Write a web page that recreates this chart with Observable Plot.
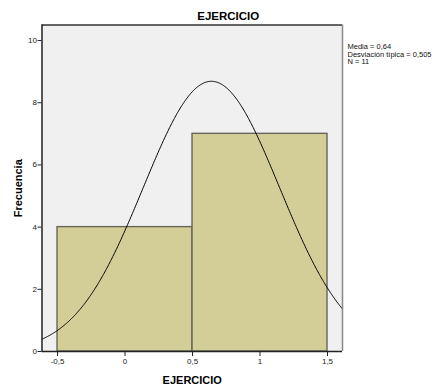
<!DOCTYPE html>
<html><head><meta charset="utf-8">
<script src="https://cdn.jsdelivr.net/npm/d3@7"></script>
<script src="https://cdn.jsdelivr.net/npm/@observablehq/plot@0.6"></script>
<style>
body{margin:0;background:#fff;}
#chart{width:434px;height:387px;}
</style>
</head><body><div id="chart"></div>
<script>
// Data
const binStart = [-0.5, 0.5];
const binEnd = [0.5, 1.5];
const counts = [4, 7];
const xTicks = [-0.5, 0, 0.5, 1, 1.5];
const xTickLabels = ["-0,5", "0", "0,5", "1", "1,5"];
const yTicks = [0, 2, 4, 6, 8, 10];
const statsLines = ["Media = 0,64", "Desviación típica = 0,505", "N = 11"];
const mean = 0.64, sd = 0.505, n = 11, binWidth = 1;
const titleText = "EJERCICIO";
const xLabel = "EJERCICIO";
const yLabel = "Frecuencia";

const xDomain = [-0.615, 1.611];
const bins = binStart.map((s, i) => ({x1: s, x2: binEnd[i], count: counts[i]}));
const curve = d3.range(xDomain[0], xDomain[1] + 1e-9, 0.005).map(x => ({
  x, y: n * binWidth / (sd * Math.sqrt(2 * Math.PI)) * Math.exp(-0.5 * ((x - mean) / sd) ** 2)
}));

const font = "'Liberation Sans', Arial, sans-serif";
const chart = Plot.plot({
  width: 434, height: 387,
  marginLeft: 41.5, marginRight: 92, marginTop: 24.5, marginBottom: 36,
  style: {fontFamily: font, fontSize: "8px", background: "white", overflow: "visible", color: "#222"},
  x: {domain: xDomain},
  y: {domain: [0, 10.5]},
  marks: [
    Plot.frame({fill: "#f0f0f0", stroke: null}),
    Plot.rectY(bins, {x1: "x1", x2: "x2", y: "count", fill: "#d3ce98", stroke: "#66665a", strokeWidth: 1.4}),
    Plot.line(curve, {x: "x", y: "y", stroke: "black", strokeWidth: 1}),
    Plot.ruleY([10.5], {stroke: "#333", strokeWidth: 1.3}),
    Plot.ruleX([xDomain[1]], {stroke: "#888", strokeWidth: 1.5}),
    Plot.ruleX([xDomain[0]], {stroke: "#222", strokeWidth: 1.5}),
    Plot.ruleY([0], {stroke: "#222", strokeWidth: 1.5}),
    Plot.axisX({ticks: xTicks, tickFormat: d => xTickLabels[xTicks.indexOf(d)], tickSize: 5, tickPadding: 2, label: null, fontSize: 8}),
    Plot.axisY({ticks: yTicks, tickSize: 4, tickPadding: 1, label: null, fontSize: 8}),
    Plot.text([titleText], {frameAnchor: "top", dx: 36, dy: -8.5, lineAnchor: "middle", textAnchor: "middle", fontWeight: "bold", fontSize: 11.5, fill: "black"}),
    Plot.text([xLabel], {frameAnchor: "bottom", dy: 29, lineAnchor: "middle", textAnchor: "middle", fontWeight: "bold", fontSize: 11, fill: "black"}),
    Plot.text([yLabel], {frameAnchor: "left", dx: -24, rotate: -90, lineAnchor: "middle", textAnchor: "middle", fontWeight: "bold", fontSize: 11, fill: "black"}),
    Plot.text([statsLines.join("\n")], {frameAnchor: "top-right", dx: 5, dy: 19, textAnchor: "start", lineAnchor: "top", lineHeight: 1, fontSize: 7.5, fill: "#111"})
  ]
});
document.getElementById("chart").appendChild(chart);
</script>
</body></html>
